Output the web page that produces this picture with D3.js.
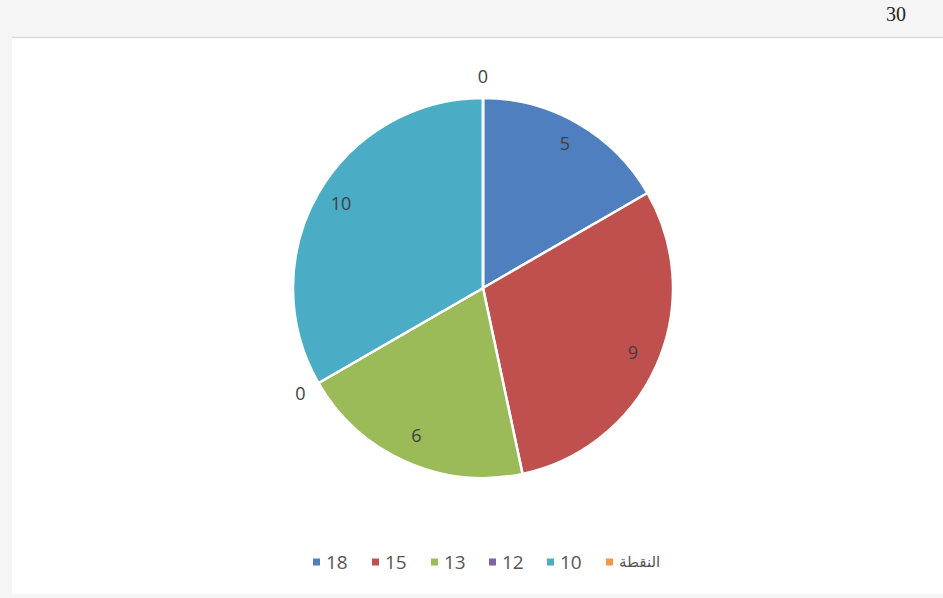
<!DOCTYPE html>
<html><head><meta charset="utf-8">
<script src="https://cdn.jsdelivr.net/npm/d3@7"></script>
<style>html,body{margin:0;padding:0;background:#f5f5f5;overflow:hidden}</style>
</head><body>
<svg id="c" width="943" height="598"></svg>
<script>
const categories = ["18", "15", "13", "12", "10", "النقطة"];
const values = [5, 9, 6, 0, 10, 0];
const colors = ["#4f7fbf", "#c0504d", "#9bbb59", "#8064a2", "#4bacc6", "#f79646"];
const totalLabel = "30";

const svg = d3.select("#c");
svg.append("rect").attr("x", 0).attr("y", 0).attr("width", 943).attr("height", 598).attr("fill", "#f5f5f5");
svg.append("rect").attr("x", 12).attr("y", 38).attr("width", 931).attr("height", 556).attr("fill", "#ffffff");
svg.append("line").attr("x1", 12).attr("x2", 943).attr("y1", 37.5).attr("y2", 37.5).attr("stroke", "#dcdcdc").attr("stroke-width", 1.5);
svg.append("text").attr("x", 896).attr("y", 21).attr("text-anchor", "middle")
  .attr("font-family", "Liberation Serif, serif").attr("font-size", 20).attr("fill", "#222").text(totalLabel);

const cx = 483, cy = 288, R = 190;
const color = d3.scaleOrdinal().domain(categories).range(colors);
const pie = d3.pie().sort(null).value(d => d.v);
const data = categories.map((c, i) => ({c, v: values[i]}));
const arcs = pie(data);
const arc = d3.arc().innerRadius(0).outerRadius(R);
const g = svg.append("g").attr("transform", `translate(${cx},${cy})`);
g.selectAll("path").data(arcs).join("path")
  .attr("d", arc).attr("fill", d => color(d.data.c))
  .attr("stroke", "#fff").attr("stroke-width", 2.5).attr("stroke-linejoin", "round");

const inner = d3.arc().innerRadius(164).outerRadius(164);
g.selectAll("text.lbl").data(arcs).join("text").attr("class", "lbl")
  .attr("transform", d => {
    if (d.data.v === 0) {
      const a = d.startAngle;
      return `translate(${Math.sin(a) * 211},${-Math.cos(a) * 211})`;
    }
    const p = inner.centroid(d);
    return `translate(${p[0]},${p[1] - 2})`;
  })
  .attr("text-anchor", "middle").attr("dy", "0.35em")
  .attr("font-family", "Open Sans, Liberation Sans, sans-serif").attr("font-size", 18)
  .attr("fill", "#404040").text(d => d.data.v);

// legend
const legendX = [313, 372, 431, 489, 547, 606];
const lg = svg.append("g");
const items = lg.selectAll("g").data(data).join("g")
  .attr("transform", (d, i) => `translate(${legendX[i]},562)`);
items.append("rect").attr("x", 0).attr("y", -3.5).attr("width", 7).attr("height", 7).attr("fill", d => color(d.c));
items.append("text").attr("x", 13).attr("dy", "0.35em")
  .attr("font-family", d => d.c === "النقطة" ? "Noto Sans, DejaVu Sans, sans-serif" : "Open Sans, Liberation Sans, sans-serif")
  .attr("font-size", d => d.c === "النقطة" ? 15 : 19)
  .attr("fill", "#555").text(d => d.c);
</script>
</body></html>
